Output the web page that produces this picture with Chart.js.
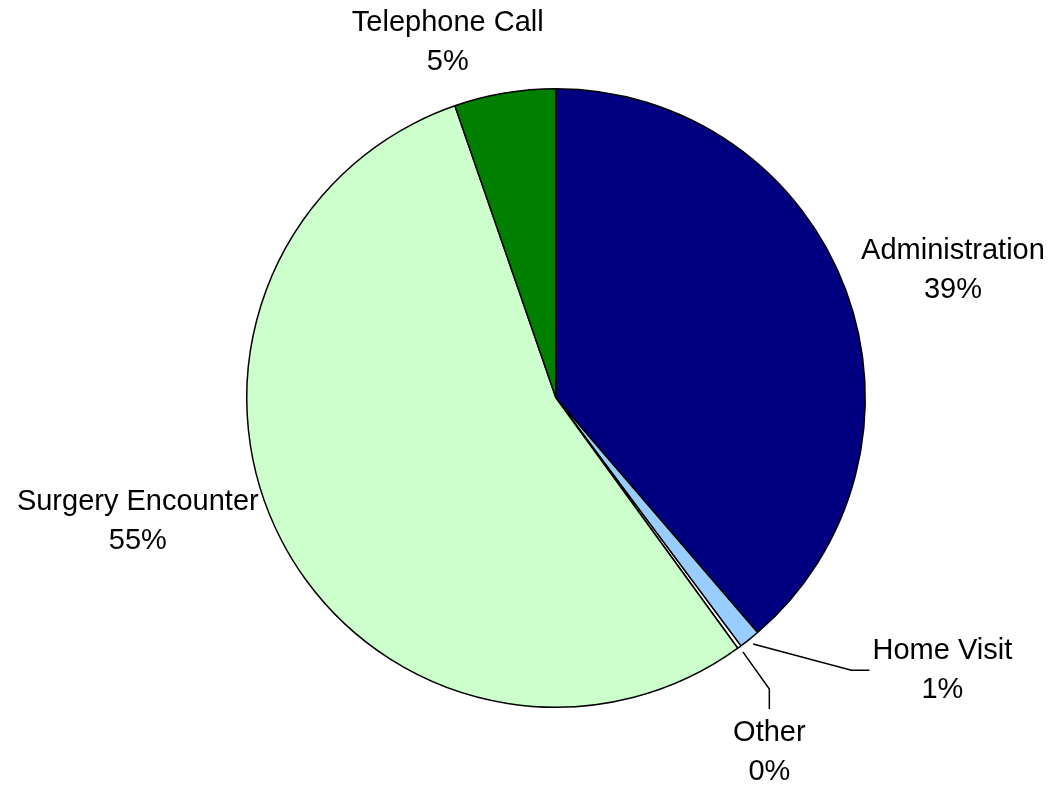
<!DOCTYPE html>
<html>
<head>
<meta charset="utf-8">
<script src="https://cdn.jsdelivr.net/npm/chart.js@4"></script>
<style>
  body { margin: 0; background: #fff; }
  canvas { display: block; }
</style>
</head>
<body>
<canvas id="chart" width="1049" height="786"></canvas>
<script>
// data, clockwise from 12 o'clock
var categories = ["Administration", "Home Visit", "Other", "Surgery Encounter", "Telephone Call"]
var shares = [38.7, 1.1, 0.2, 54.7, 5.3]
var sliceColors = ["#000080", "#99CCFF", "#FFFFFF", "#CCFFCC", "#008000"]

// where each label sits, relative to the rim point at the slice's mid angle
var labelPlace = [
    { dx: 107, dy: -20 },
    { dx: 193, dy: 31, leader: [[102, 31], [120, 31]] },
    { dx: 30, dy: 105, leader: [[30, 42], [30, 62]] },
    { dx: -144, dy: -19 },
    { dx: -57, dy: -51 }
]

var FONT = "29px 'Liberation Sans', Arial, sans-serif"
var LINE_H = 39

var pieLabels = {
    id: "pieLabels",
    afterDatasetsDraw: function(chart){
        var ctx = chart.ctx
        var meta = chart.getDatasetMeta(0)
        ctx.save()
        ctx.font = FONT
        ctx.fillStyle = "#000"
        ctx.strokeStyle = "#000"
        ctx.lineWidth = 1.5
        ctx.textAlign = "center"
        ctx.textBaseline = "middle"
        meta.data.forEach(function(arc, i){
            var p = arc.getProps(["x", "y", "startAngle", "endAngle", "outerRadius"], true)
            var mid = (p.startAngle + p.endAngle) / 2
            var rx = p.x + Math.cos(mid) * p.outerRadius
            var ry = p.y + Math.sin(mid) * p.outerRadius
            var place = labelPlace[i]
            if(place.leader){
                ctx.beginPath()
                ctx.moveTo(rx + Math.cos(mid) * 6, ry + Math.sin(mid) * 6)
                place.leader.forEach(function(pt){
                    ctx.lineTo(rx + pt[0], ry + pt[1])
                })
                ctx.stroke()
            }
            var lx = rx + place.dx, ly = ry + place.dy
            ctx.fillText(categories[i], lx, ly - LINE_H / 2)
            ctx.fillText(Math.round(shares[i]) + "%", lx, ly + LINE_H / 2)
        })
        ctx.restore()
    }
}

new Chart(document.getElementById("chart").getContext("2d"), {
    type: "pie",
    data: {
        labels: categories,
        datasets: [{
            data: shares,
            backgroundColor: sliceColors,
            borderColor: "#000",
            borderWidth: 1.5
        }]
    },
    options: {
        responsive: false,
        animation: false,
        layout: { padding: { left: 246, right: 183, top: 88, bottom: 78 } },
        plugins: {
            legend: { display: false },
            tooltip: { enabled: false }
        }
    },
    plugins: [pieLabels]
})
</script>
</body>
</html>
